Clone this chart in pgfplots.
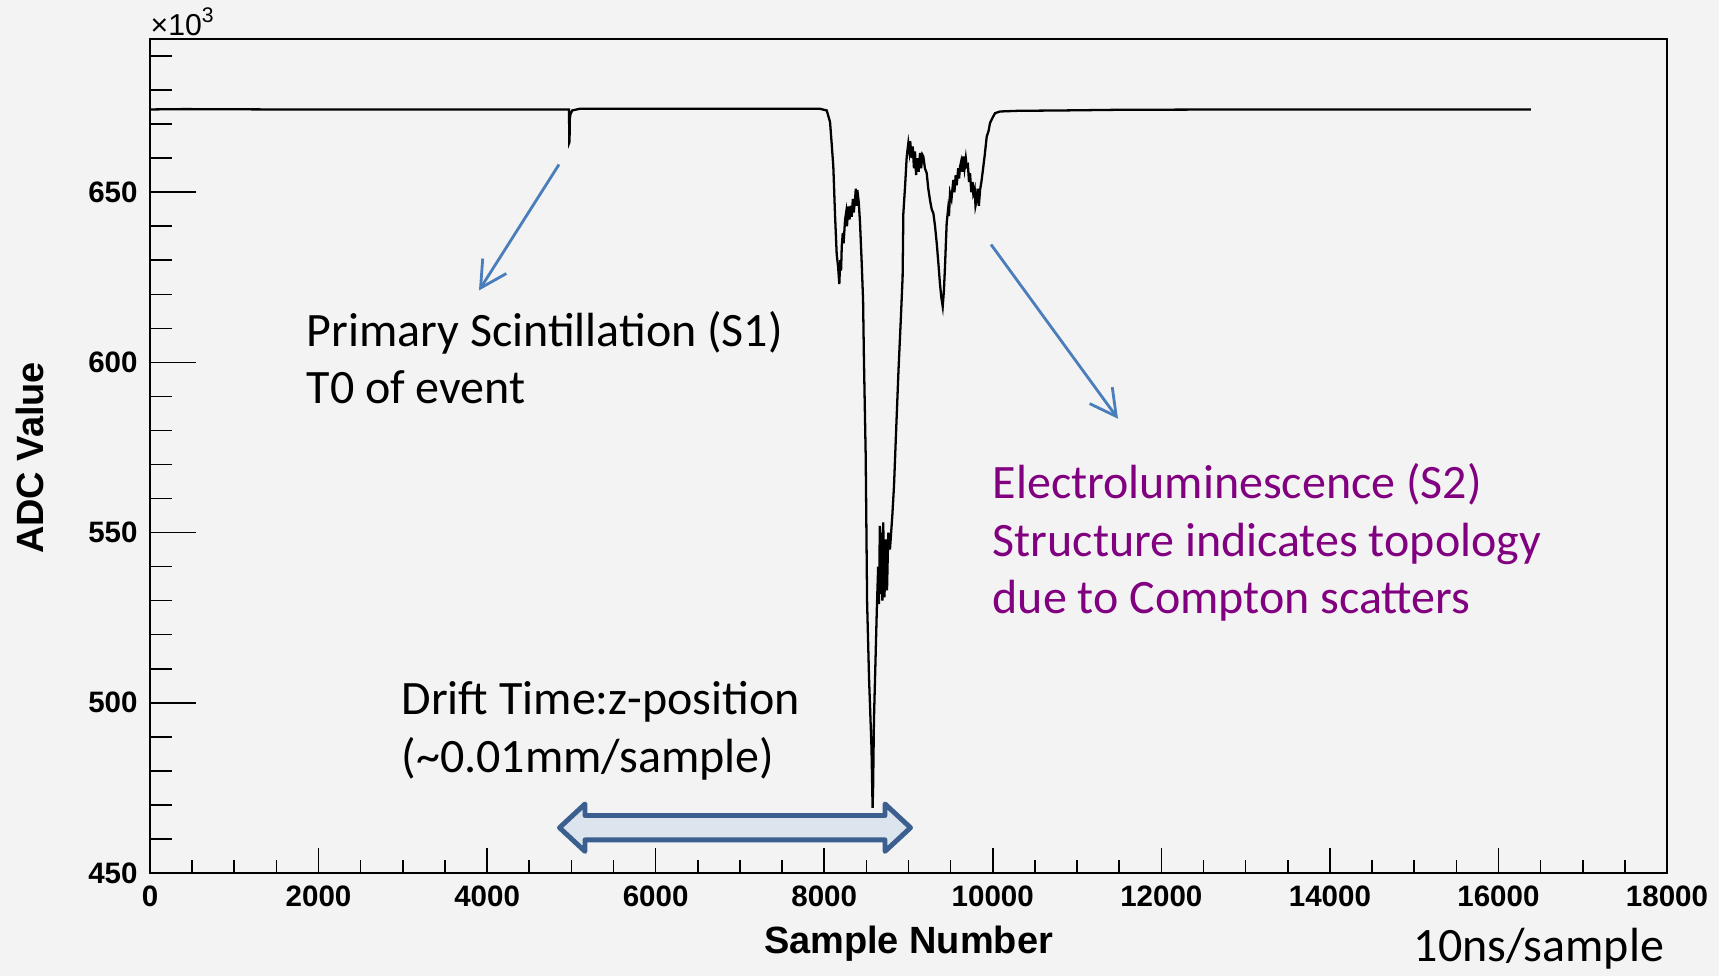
\documentclass[border=0pt]{standalone}
\usepackage{fontspec}
\setmainfont{Liberation Sans}
\newfontfamily\gill{Carlito}
\usepackage{pgfplots}
\usepackage{pgfplotstable}
\pgfplotsset{compat=1.18}
\usetikzlibrary{arrows.meta}
\definecolor{bg}{HTML}{F3F3F3}
\definecolor{annblue}{HTML}{4A7EBB}
\definecolor{blockedge}{HTML}{3B5F8E}
\definecolor{blockfill}{HTML}{DCE4EE}
\definecolor{elpurple}{HTML}{800080}

\pgfplotstableread{
x y
0 674.3
400 674.4
1500 674.3
3000 674.3
4960 674.3
4972 674.3
4975 664.6
4978 664.8
4981 671.5
4990 673.0
5010 674.0
5100 674.5
6500 674.5
7950 674.5
8030 674.0
8069 670.6
8089 664.1
8108 657.5
8128 643.5
8148 631.8
8165 628
8179 623.0
8190 630
8200 627
8208 634.0
8220 638
8230 635
8247 641.8
8260 644
8270 640
8286 645.8
8300 642
8315 646
8326 642.8
8340 648
8350 644
8365 647.7
8375 651
8385 646
8393 650.6
8410 647
8425 640.9
8445 629.1
8461 618.3
8471 601.2
8492 572.8
8509 529.3
8532 507.1
8561 486.8
8574 469.1
8580 475
8590 495
8604 508.1
8624 527.3
8640 540
8650 529
8660 552
8670 532
8680 550
8690 530
8700 553
8715 531
8730 548
8745 533
8760 550
8780 545
8808 555
8828 563.7
8850 577.9
8882 598.1
8910 613.3
8930 625
8939 643.8
8960 652
8979 660.5
8998 664.4
9010 662
9020 665
9038 660
9050 663.4
9065 657
9077 662
9090 655
9105 660
9120 656
9137 661.5
9150 657
9165 661
9176 660.5
9195 657
9216 655.6
9235 651
9255 647.7
9275 645
9295 643.8
9315 640
9335 635.0
9355 629
9374 622.9
9390 619
9406 616.4
9420 621
9433 628.1
9453 640.9
9470 645
9480 643
9493 649.7
9510 648
9532 653.6
9545 650
9560 655
9572 652
9590 657
9600 654
9612 657.5
9625 659
9640 656
9651 660.5
9665 657
9680 660
9691 657.6
9705 658
9718 653
9730 655.6
9745 650
9760 653
9769 649.6
9785 651
9795 646
9809 647.7
9820 651
9835 646
9849 650.6
9865 653
9888 657.5
9905 661
9928 666.3
9950 668
9967 670.3
10000 672
10027 673.2
10086 673.7
10300 673.9
10800 674.0
11500 674.2
13000 674.3
14500 674.3
16384 674.3
}\trace

\begin{document}
\begin{tikzpicture}
\fill[bg] (0,0) rectangle (171.9mm,97.6mm);
\useasboundingbox (0,0) rectangle (171.9mm,97.6mm);
\pgfplotsset{
  rootframe/.style={
    at={(15mm,10.3mm)}, anchor=south west, scale only axis,
    width=151.7mm, height=83.4mm,
    xmin=0, xmax=18000, ymin=450, ymax=695,
    axis line style={line width=0.55pt, black},
    tick align=inside,
    scaled ticks=false,
    every tick/.style={line width=0.45pt, black},
    /pgf/number format/assume math mode=true,
    /pgf/number format/1000 sep={},
    ticklabel style={font=\fontsize{8.4}{10}\selectfont\bfseries},
  }
}
\begin{axis}[rootframe,
  xtick=\empty,
  ytick={450,500,...,650}, minor ytick={460,470,...,690},
  ytick pos=left,
  major tick length=4.57mm, minor tick length=2.2mm]
\addplot[black, line width=0.65pt] table {\trace};
\end{axis}
\begin{axis}[rootframe,
  ytick=\empty,
  xtick={0,2000,...,18000}, minor xtick={0,500,...,18000},
  xtick pos=bottom,
  major tick length=2.5mm, minor tick length=1.3mm]
\end{axis}
\begin{scope}[x=0.1mm, y=-0.1mm, yshift=97.6mm]
  \node[anchor=base west, inner sep=0, font=\fontsize{8.6}{9}\selectfont] at (150,36) {×10\textsuperscript{3}};
  \node[rotate=90, font=\fontsize{10.8}{12}\selectfont\bfseries] at (29.6,458) {ADC Value};
  \node[font=\fontsize{10.8}{12}\selectfont\bfseries] at (908.5,944) {Sample Number};
  % annotation arrows
  \draw[annblue, line width=0.8pt, -{Straight Barb[length=2.6mm,width=2.8mm]}] (559,164.5) -- (479,290.5);
  \draw[annblue, line width=0.8pt, -{Straight Barb[length=2.6mm,width=2.8mm]}] (991,244.5) -- (1118,418.8);
  % double block arrow
  \draw[blockedge, fill=blockfill, line width=1.4pt, line join=round]
    (559.5,827.7) -- (585,804) -- (585,815.5) -- (885,815.5) -- (885,804) -- (910.5,827.7)
    -- (885,851.4) -- (885,839.9) -- (585,839.9) -- (585,851.4) -- cycle;
  % texts
  \begin{scope}[every node/.style={anchor=base west, inner sep=0, font=\gill\fontsize{13.65}{16}\selectfont}]
    \node at (306,346.7) {Primary Scintillation (S1)};
    \node at (306,403.3) {T0 of event};
    \node at (401,714.8) {Drift Time:z-position};
    \node at (401,772.9) {(\textasciitilde 0.01mm/sample)};
    \node[text=elpurple] at (992,498.8) {Electroluminescence (S2)};
    \node[text=elpurple] at (992,556.9) {Structure indicates topology};
    \node[text=elpurple] at (992,613.9) {due to Compton scatters};
    \node at (1413,961.7) {10ns/sample};
  \end{scope}
\end{scope}
\end{tikzpicture}
\end{document}
